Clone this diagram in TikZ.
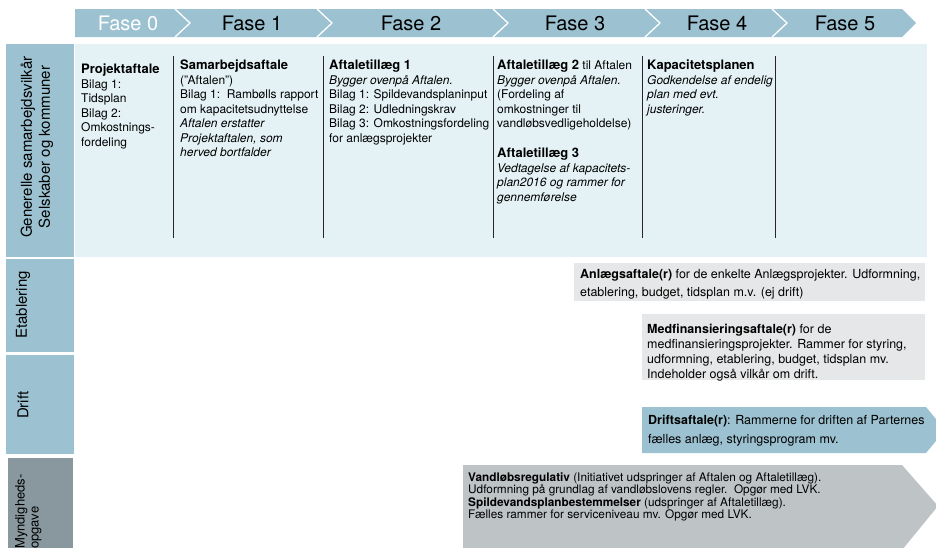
\documentclass[tikz,border=0pt]{standalone}
\usepackage{fontspec}
\setmainfont{TeX Gyre Heros}
\usetikzlibrary{positioning}
\definecolor{fasebl}{RGB}{156,193,208}
\definecolor{lysbl}{RGB}{228,242,246}
\definecolor{graa}{RGB}{230,231,232}
\definecolor{myndgr}{RGB}{136,152,158}
\definecolor{regul}{RGB}{190,195,198}
\tikzset{
  fasetxt/.style={font=\fontsize{20}{24}\selectfont, inner sep=0pt},
  rowtxt/.style={rotate=90, align=center, inner sep=0pt, font=\fontsize{15}{18}\selectfont},
  entry/.style={anchor=north west, align=left, inner sep=0pt, font=\fontsize{12}{14.5}\selectfont},
  divider/.style={draw=black!85, line width=0.9pt},
}

\begin{document}
\begin{tikzpicture}[x=1pt,y=-1pt]
      \def\btop{9}   % top of phase bar
      \def\bbot{37}  % bottom of phase bar
      \useasboundingbox (0,0) rectangle (936,547);
      %
      % phase bar
      \fill[fasebl] (75,\btop) -- (902,\btop) -- (916,23) -- (902,\bbot) -- (75,\bbot) -- cycle;
      \foreach \X in {175,317,493,645,772} {%
        \draw[white, line width=1.3pt] (\X,\btop) -- ++(15,14) -- ++(-15,14);
      }
      \node[fasetxt, text=white] (f0) at (128,23) {Fase 0};
      \node[fasetxt] (f1) at (252,23) {Fase 1};
      \node[fasetxt] (f2) at (411,23) {Fase 2};
      \node[fasetxt] (f3) at (575,23) {Fase 3};
      \node[fasetxt] (f4) at (717,23) {Fase 4};
      \node[fasetxt] (f5) at (845,23) {Fase 5};
      %
      % row labels
      \fill[lysbl] (75,44) rectangle (927,257);
      \fill[fasebl] (6,44) rectangle (74,257);
      \fill[fasebl] (6,259) rectangle (74,352);
      \fill[fasebl] (6,355) rectangle (74,454);
      \fill[myndgr] (8,458) rectangle (73,550);
      \node[rowtxt] (generel) at (37,147) {Generelle samarbejdsvilkår\\Selskaber og kommuner};
      \node[rowtxt] (etabl) at (23,305) {Etablering};
      \node[rowtxt] (drift) at (23,405) {Drift};
      \node[rowtxt, align=left, anchor=north west, font=\fontsize{13}{14}\selectfont] (mynd) at (15,549) {Myndigheds-\\opgave};
      %
      % columns of the first row
      \foreach \X in {173,323,493,642,775} {%
        \draw[divider] (\X,56) -- (\X,238);
      }
      \node[entry] (proj) at (81,64) {\textbf{\fontsize{13}{14.5}\selectfont Projektaftale}\\Bilag 1:\\Tidsplan\\Bilag 2:\\Omkostnings-\\fordeling};
      \node[entry] (samarb) at (180,60) {\textbf{\fontsize{13}{14.5}\selectfont Samarbejdsaftale}\\("Aftalen")\\Bilag 1:\ \ Rambølls rapport\\om kapacitetsudnyttelse\\\textit{Aftalen erstatter}\\\textit{Projektaftalen, som}\\\textit{herved bortfalder}};
      \node[entry] (till1) at (329,60) {\textbf{\fontsize{13}{14.5}\selectfont Aftaletillæg 1}\\\textit{Bygger ovenpå Aftalen.}\\Bilag 1: Spildevandsplaninput\\Bilag 2: Udledningskrav\\Bilag 3: Omkostningsfordeling\\for anlægsprojekter};
      \node[entry] (till2) at (497,60) {\textbf{\fontsize{13}{14.5}\selectfont Aftaletillæg 2} til Aftalen\\\textit{Bygger ovenpå Aftalen.}\\(Fordeling af\\omkostninger til\\vandløbsvedligeholdelse)};
      \node[entry, below=17pt of till2.south west, anchor=north west] (till3) {\textbf{\fontsize{13}{14.5}\selectfont Aftaletillæg 3}\\\textit{Vedtagelse af kapacitets-}\\\textit{plan2016 og rammer for}\\\textit{gennemførelse}};
      \node[entry] (kapac) at (647,60) {\textbf{\fontsize{13}{14.5}\selectfont Kapacitetsplanen}\\\textit{Godkendelse af endelig}\\\textit{plan med evt.}\\\textit{justeringer.}};
      %
      % etablering, drift, myndighed
      \fill[graa] (574,263) rectangle (925,301);
      \node[entry, font=\fontsize{12.5}{18}\selectfont] (anlaeg) at (580,269) {\textbf{Anlægsaftale(r)} for de enkelte Anlægsprojekter. Udformning,\\etablering, budget, tidsplan m.v. (ej drift)};
      \fill[graa] (642,314) rectangle (925,380);
      \node[entry, font=\fontsize{12.5}{15}\selectfont] (medfin) at (647,324) {\textbf{Medfinansieringsaftale(r)} for de\\medfinansieringsprojekter. Rammer for styring,\\udformning, etablering, budget, tidsplan mv.\\Indeholder også vilkår om drift.};
      \fill[fasebl] (642,407) -- (926,407) -- (945,430) -- (926,453) -- (642,453) -- cycle;
      \node[entry, font=\fontsize{12.5}{19}\selectfont] (driftaft) at (648,415) {\textbf{Driftsaftale(r)}: Rammerne for driften af Parternes\\fælles anlæg, styringsprogram mv.};
      \fill[regul] (463,465) -- (902,465) -- (938,506) -- (902,550) -- (463,550) -- cycle;
      \node[entry, font=\fontsize{11.8}{12.5}\selectfont] (vandl) at (468,472) {\textbf{Vandløbsregulativ} (Initiativet udspringer af Aftalen og Aftaletillæg).\\Udformning på grundlag af vandløbslovens regler.\ \ Opgør med LVK.\\\textbf{Spildevandsplanbestemmelser} (udspringer af Aftaletillæg).\\Fælles rammer for serviceniveau mv. Opgør med LVK.};
    \end{tikzpicture}
\end{document}
